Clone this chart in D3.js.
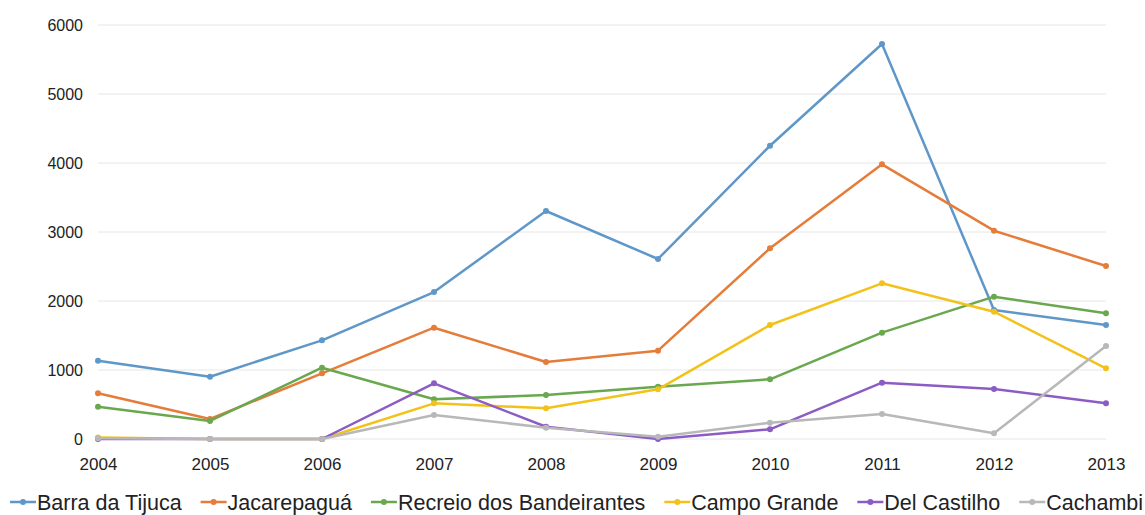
<!DOCTYPE html>
<html>
<head>
<meta charset="utf-8">
<script src="https://cdn.jsdelivr.net/npm/d3@7"></script>
<style>
  body { margin: 0; background: #fff; }
  #chart text { font-family: "Liberation Sans", Arial, sans-serif; fill: #222; }
</style>
</head>
<body>
<div id="chart"></div>
<script>
var years = [2004, 2005, 2006, 2007, 2008, 2009, 2010, 2011, 2012, 2013];
var yTicks = [0, 1000, 2000, 3000, 4000, 5000, 6000];

var names = ['Barra da Tijuca', 'Jacarepaguá', 'Recreio dos Bandeirantes',
             'Campo Grande', 'Del Castilho', 'Cachambi'];
var colors = ['#5f97c9', '#e57c39', '#6aa84f', '#f2c21a', '#8c5cc4', '#b8b8b8'];

var barra     = [1135, 903, 1430, 2130, 3304, 2609, 4250, 5725, 1870, 1652];
var jacare    = [662, 290, 952, 1613, 1116, 1280, 2764, 3981, 3019, 2507];
var recreio   = [468, 261, 1033, 575, 638, 758, 865, 1541, 2063, 1821];
var campo     = [20, 0, 0, 517, 445, 720, 1652, 2256, 1845, 1025];
var castilho  = [0, 0, 0, 807, 178, 0, 140, 816, 725, 517];
var cachambi  = [10, 0, 0, 348, 164, 33, 236, 362, 82, 1348];

var seriesValues = [barra, jacare, recreio, campo, castilho, cachambi];

var width = 1145, height = 515;
var svg = d3.select('#chart').append('svg')
    .attr('width', width)
    .attr('height', height);

var x = d3.scalePoint()
    .domain(years)
    .range([98, 1106]);

var y = d3.scaleLinear()
    .domain([0, 6000])
    .range([439, 25]);

/* grid */
svg.append('g')
   .selectAll('line')
   .data(yTicks)
   .enter()
   .append('line')
   .attr('x1', 98)
   .attr('x2', 1106)
   .attr('y1', function(d) { return y(d); })
   .attr('y2', function(d) { return y(d); })
   .attr('stroke', '#e6e6e6')
   .attr('stroke-width', 1);

/* y axis labels */
var yAxis = d3.axisLeft(y).tickValues(yTicks).tickFormat(d3.format('d'))
    .tickSize(0).tickPadding(0);
var gy = svg.append('g')
    .attr('transform', 'translate(83,0)')
    .call(yAxis);
gy.select('.domain').remove();
gy.selectAll('text').style('font-size', '16px');

/* x axis labels */
var xAxis = d3.axisBottom(x).tickFormat(d3.format('d')).tickSize(0).tickPadding(0);
var gx = svg.append('g')
    .attr('transform', 'translate(0,458)')
    .call(xAxis);
gx.select('.domain').remove();
gx.selectAll('text').style('font-size', '17px');

var line = d3.line()
    .x(function(d, i) { return x(years[i]); })
    .y(function(d) { return y(d); });

seriesValues.forEach(function(vals, k) {
    svg.append('path')
       .datum(vals)
       .attr('d', line)
       .attr('fill', 'none')
       .attr('stroke', colors[k])
       .attr('stroke-width', 2.5)
       .attr('stroke-linejoin', 'round');

    svg.append('g')
       .selectAll('circle')
       .data(vals)
       .enter()
       .append('circle')
       .attr('cx', function(d, i) { return x(years[i]); })
       .attr('cy', function(d) { return y(d); })
       .attr('r', 3)
       .attr('fill', colors[k]);
});

/* legend */
var legend = svg.append('g').attr('transform', 'translate(0,502)');
var lx = 10;
names.forEach(function(name, k) {
    var item = legend.append('g').attr('transform', 'translate(' + lx + ',0)');
    item.append('line')
        .attr('x1', 0).attr('x2', 26)
        .attr('y1', 0).attr('y2', 0)
        .attr('stroke', colors[k])
        .attr('stroke-width', 2.5);
    item.append('circle')
        .attr('cx', 13).attr('cy', 0).attr('r', 3)
        .attr('fill', colors[k]);
    var t = item.append('text')
        .attr('x', 27)
        .attr('y', 8)
        .style('font-size', '21.5px')
        .text(name);
    lx += 27 + t.node().getComputedTextLength() + 19;
});
</script>
</body>
</html>
